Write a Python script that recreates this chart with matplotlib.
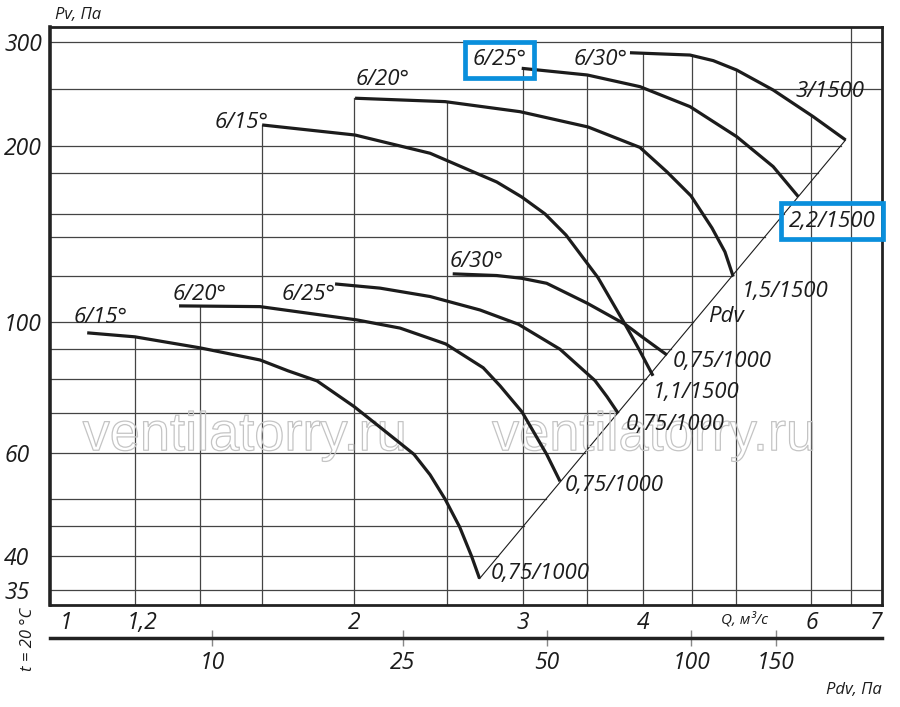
import numpy as np
import matplotlib
matplotlib.use("Agg")
import matplotlib.pyplot as plt
from matplotlib import patheffects

# fan curves, Q in m3/s, Pv in Pa
# lower group, 0,75 kW / 1000 rpm
q_15_lo = [1.052, 1.180, 1.380, 1.594, 1.705, 1.828, 1.998, 2.132, 2.308, 2.399, 2.487, 2.576, 2.650, 2.702]
p_15_lo = [96.0, 94.5, 90.5, 86.3, 82.7, 79.5, 71.9, 66.1, 59.6, 55.0, 50.0, 44.8, 40.0, 36.6]
q_20_lo = [1.312, 1.594, 2.011, 2.232, 2.491, 2.726, 2.838, 2.992, 3.175, 3.279]
p_20_lo = [106.7, 106.4, 101.0, 97.8, 91.9, 83.7, 78.0, 70.4, 59.6, 53.6]
q_25_lo = [1.909, 2.127, 2.399, 2.705, 2.966, 3.279, 3.566, 3.671, 3.771]
p_25_lo = [116.3, 114.4, 110.7, 105.0, 99.3, 90.0, 79.6, 74.7, 70.0]
q_30_lo = [2.533, 2.816, 2.990, 3.175, 3.501, 3.833, 3.993, 4.240]
p_30_lo = [121.0, 120.2, 118.9, 116.6, 107.8, 99.3, 94.5, 88.0]

# upper group, 1500 rpm
q_15_hi = [1.602, 2.003, 2.399, 2.816, 2.990, 3.162, 3.326, 3.592, 3.833, 3.964, 4.100]
p_15_hi = [217.0, 208.6, 194.2, 173.5, 163.6, 153.1, 140.9, 119.2, 99.3, 90.0, 81.1]
q_20_hi = [2.003, 2.487, 2.978, 3.507, 3.973, 4.240, 4.492, 4.724, 4.874, 4.972]
p_20_hi = [241.0, 237.8, 228.6, 215.3, 198.7, 180.5, 164.3, 144.9, 131.9, 119.7]
q_25_hi = [2.990, 3.501, 3.973, 4.481, 5.013, 5.473, 5.814]
p_25_hi = [271.0, 264.0, 252.2, 233.2, 207.3, 184.3, 163.8]
q_30_hi = [3.879, 4.481, 4.739, 5.013, 5.473, 6.026, 6.514]
p_30_hi = [288.1, 285.5, 279.3, 269.2, 248.9, 224.2, 204.6]

angle_labels = ["6/15°", "6/20°", "6/25°", "6/30°"]
motor_lo = ["0,75/1000", "0,75/1000", "0,75/1000", "0,75/1000"]
motor_hi = ["1,1/1500", "1,5/1500", "2,2/1500", "3/1500"]

x_ticks = [1, 1.2, 2, 3, 4, 6, 7]
x_tick_labels = ["1", "1,2", "2", "3", "4", "6", "7"]
y_ticks = [300, 200, 100, 60, 40, 35]
pdv_ticks = [10, 25, 50, 100, 150]

grid_q = [1.18, 1.38, 1.6, 2, 2.5, 3, 3.5, 4, 4.5, 5, 6, 6.6]
grid_p = [300, 250, 200, 180, 153, 140, 120, 100, 90, 80, 70, 60, 50, 45, 40, 35]

Q_LIM = (0.962, 7.11)
P_LIM = (33.0, 318.7)
K_DYN = 4.95   # Pdv = K_DYN * Q^2

curves_lo = [(q_15_lo, p_15_lo), (q_20_lo, p_20_lo), (q_25_lo, p_25_lo), (q_30_lo, p_30_lo)]
curves_hi = [(q_15_hi, p_15_hi), (q_20_hi, p_20_hi), (q_25_hi, p_25_hi), (q_30_hi, p_30_hi)]
all_curves = curves_lo + curves_hi

fnt = dict(family="Open Sans", style="italic")
ink = "#1c1c1c"
gridc = "#444444"
blue = "#0a8fdc"

fig = plt.figure(figsize=(9, 7.07), dpi=100)
ax = fig.add_axes([50 / 900, 102 / 707, 832 / 900, 578 / 707])
ax.set_xscale("log")
ax.set_yscale("log")
ax.set_xlim(*Q_LIM)
ax.set_ylim(*P_LIM)

# vertical grid goes up to the highest curve above it
for q in grid_q:
    tops = [np.exp(np.interp(np.log(q), np.log(cq), np.log(cp)))
            for cq, cp in all_curves if cq[0] * 0.99 <= q <= cq[-1] * 1.01]
    top = max(tops) if tops else P_LIM[1]
    ax.plot([q, q], [P_LIM[0], top], color=gridc, lw=0.9, zorder=1)

# Pdv line through the curve ends
dq = [q_15_lo[-1], q_30_hi[-1]]
dp = [p_15_lo[-1], p_30_hi[-1]]

# horizontal grid stops at the Pdv line
for p in grid_p:
    right = Q_LIM[1]
    if dp[0] <= p <= dp[1]:
        right = np.exp(np.interp(np.log(p), np.log(dp), np.log(dq)))
    ax.plot([Q_LIM[0], right], [p, p], color=gridc, lw=0.9, zorder=1)

ax.plot(dq, dp, color=ink, lw=0.8, zorder=2)

for cq, cp in all_curves:
    ax.plot(cq, cp, color=ink, lw=2.3, solid_capstyle="butt", solid_joinstyle="round", zorder=3)

# watermark
for xw in [0.234, 0.726]:
    ax.text(xw, 0.292, "ventilatorry.ru", transform=ax.transAxes, ha="center", va="center",
            fontsize=39, family="Liberation Sans", color="none", zorder=2,
            path_effects=[patheffects.Stroke(linewidth=0.9, foreground="#c4c4c4")])

# curve labels: (curve, start or end, text, dx, dy, ha)
lab = [
    (curves_lo[0], 0, angle_labels[0], -14, 10, "left"),
    (curves_lo[1], 0, angle_labels[1], -6, 6, "left"),
    (curves_lo[2], 0, angle_labels[2], 1, -16, "right"),
    (curves_lo[3], 0, angle_labels[3], -3, 7, "left"),
    (curves_hi[0], 0, angle_labels[0], 6, -3, "right"),
    (curves_hi[1], 0, angle_labels[1], 1, 13, "left"),
    (curves_hi[2], 0, angle_labels[2], 5, 3, "right"),
    (curves_hi[3], 0, angle_labels[3], -2, -12, "right"),
    (curves_lo[0], -1, motor_lo[0], 11, 0, "left"),
    (curves_lo[1], -1, motor_lo[1], 5, -10, "left"),
    (curves_lo[2], -1, motor_lo[2], 7, -17, "left"),
    (curves_lo[3], -1, motor_lo[3], 6, -12, "left"),
    (curves_hi[0], -1, motor_hi[0], 0, -22, "left"),
    (curves_hi[1], -1, motor_hi[1], 9, -20, "left"),
    (curves_hi[2], -1, motor_hi[2], 34, -30, "center"),
    (curves_hi[3], -1, motor_hi[3], -16, 43, "center"),
]
for (cq, cp), i, txt, dx, dy, ha in lab:
    t = ax.annotate(txt, xy=(cq[i], cp[i]), xytext=(dx, dy), textcoords="offset pixels",
                    ha=ha, va="baseline", fontsize=16, color=ink, zorder=4, **fnt)
    if txt == "2,2/1500" or (txt == "6/25°" and cq is q_25_hi):
        t.set_bbox(dict(boxstyle="square,pad=0.34", fc="none", ec=blue, lw=3.4))

ax.annotate("Pdv", xy=(q_20_hi[-1], p_20_hi[-1]), xytext=(-25, -45), textcoords="offset pixels",
            ha="left", va="baseline", fontsize=16, color=ink, **fnt)

ax.set_xticks(x_ticks, x_tick_labels)
ax.set_yticks(y_ticks, [str(v) for v in y_ticks])
ax.minorticks_off()
ax.tick_params(axis="x", length=0, pad=4.3, labelsize=16.5, labelcolor=ink)
ax.tick_params(axis="y", length=0, pad=33, labelsize=16.5, labelcolor=ink)
for lb in ax.get_xticklabels() + ax.get_yticklabels():
    lb.set_fontstyle("italic")
    lb.set_family("Open Sans")
for lb in ax.get_yticklabels():
    lb.set_horizontalalignment("left")

for s in ax.spines.values():
    s.set_linewidth(2)
    s.set_color("#222222")
ax.spines["left"].set_linewidth(2.6)

# dynamic pressure scale under the Q axis
sec = ax.secondary_xaxis(-0.057, functions=(lambda q: K_DYN * q ** 2,
                                            lambda p: np.sqrt(np.clip(p, 1e-9, None) / K_DYN)))
sec.set_xticks(pdv_ticks, [str(v) for v in pdv_ticks])
sec.minorticks_off()
sec.tick_params(direction="inout", length=11, width=1, color="#888888", pad=4,
                labelsize=16.5, labelcolor=ink)
for lb in sec.get_xticklabels():
    lb.set_fontstyle("italic")
    lb.set_family("Open Sans")
sec.spines["bottom"].set_linewidth(2.5)
sec.spines["bottom"].set_color("#222222")

ax.text(0.006, 1.021, "Pv, Па", transform=ax.transAxes, ha="left", va="center",
        fontsize=12, color=ink, **fnt)
ax.text(0.835, -0.026, "Q, м³/с", transform=ax.transAxes, ha="center", va="center",
        fontsize=11, color=ink, **fnt)
ax.text(1.0, -0.147, "Pdv, Па", transform=ax.transAxes, ha="right", va="center",
        fontsize=12, color=ink, **fnt)
fig.text(0.031, 0.096, "t = 20 °C", rotation=90, ha="center", va="center",
         fontsize=12, color=ink, **fnt)

fig.savefig("out.png", dpi=100, facecolor="white")
